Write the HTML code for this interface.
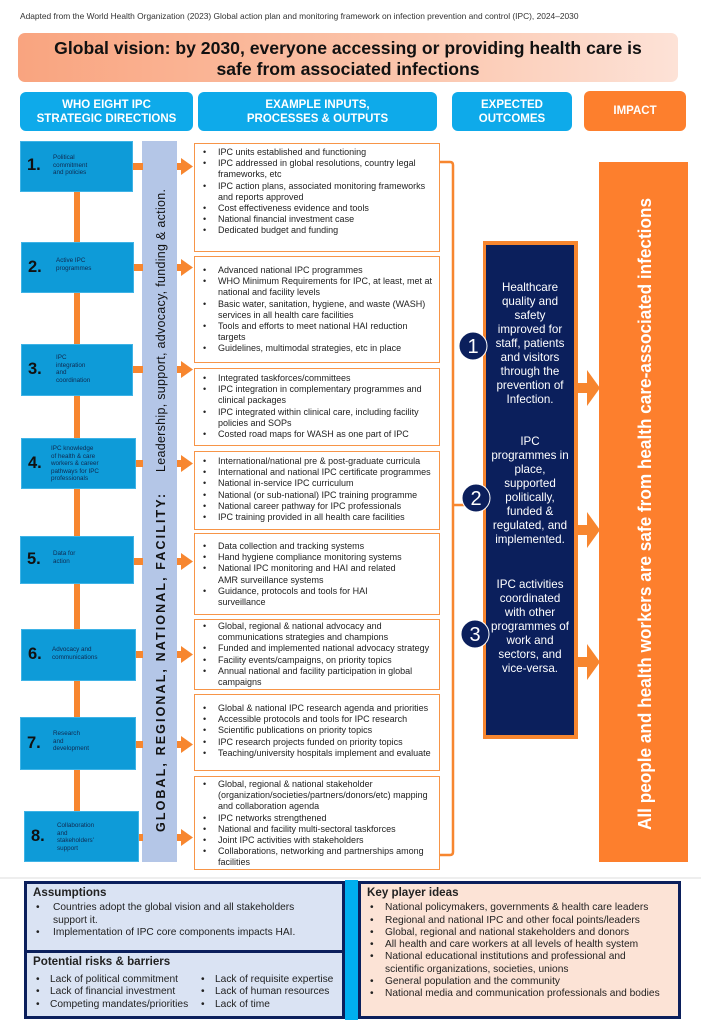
<!DOCTYPE html>
<html><head><meta charset="utf-8"><style>
*{margin:0;padding:0;box-sizing:border-box}
body{width:701px;height:1024px;background:#fff;position:relative;overflow:hidden;font-family:"Liberation Sans",Arial,sans-serif;color:#222}
.a{position:absolute}
.hdr{position:absolute;color:#fff;font-weight:bold;font-size:11.5px;text-align:center;display:flex;align-items:center;justify-content:center;line-height:14px;border-radius:6px}
.lb{position:absolute;background:#0e9bd8;border:1px solid #3fb3e6}
.lb .n{position:absolute;left:6px;font-weight:bold;font-size:16.5px;color:#111}
.lb .t{position:absolute;left:32px;font-size:6.3px;line-height:7.6px;color:#0f2a50}
.mb{position:absolute;left:194px;width:246px;border:1.6px solid #f79548;background:#fff;font-size:9px;line-height:11.2px;padding:3px 3px 0 0}
.mb ul,.bt ul{list-style:none}
.mb li{position:relative;padding-left:23px}
.mb li:before{content:"•";position:absolute;left:8px}
.oc{position:absolute;left:490px;width:80px;color:#fff;font-size:11.6px;line-height:14px;text-align:center}
.bt{position:absolute;font-size:10.2px;line-height:12.3px}
.bt h4{font-size:11.6px;margin-bottom:3px}
.bt li{position:relative;padding-left:20px}
.bt li:before{content:"•";position:absolute;left:3px}
</style></head><body>
<div class="a" style="left:20px;top:11px;font-size:8.4px;color:#333">Adapted from the World Health Organization (2023) Global action plan and monitoring framework on infection prevention and control (IPC), 2024–2030</div>
<div class="a" style="left:18px;top:33px;width:660px;height:49px;border-radius:7px;background:linear-gradient(90deg,#f9a47f,#fbc6ad 60%,#fde2d7);text-align:center;font-weight:bold;font-size:17.6px;line-height:21px;padding-top:5px;color:#111">Global vision: by 2030, everyone accessing or providing health care is<br>safe from associated infections</div>
<div class="hdr" style="left:20px;top:92px;width:173px;height:39px;background:#0eaaea">WHO EIGHT IPC<br>STRATEGIC DIRECTIONS</div>
<div class="hdr" style="left:198px;top:92px;width:239px;height:39px;background:#0eaaea">EXAMPLE INPUTS,<br>PROCESSES &amp; OUTPUTS</div>
<div class="hdr" style="left:452px;top:92px;width:120px;height:39px;background:#0eaaea">EXPECTED<br>OUTCOMES</div>
<div class="hdr" style="left:584px;top:91px;width:102px;height:40px;background:#fd7f2d">IMPACT</div>

<svg class="a" style="left:0;top:0" width="701" height="1024">
<rect x="74" y="190" width="6" height="625" fill="#f7862f"/>
<rect x="142" y="141" width="35" height="721" fill="#b4c6e7"/>
<g fill="#f7862f">
<g id="ar"><rect x="133" y="163" width="10" height="7"/><rect x="177" y="163" width="5" height="7"/><polygon points="181,158 193,166.5 181,175"/></g>
<use href="#ar" y="101"/><use href="#ar" y="203"/><use href="#ar" y="297"/><use href="#ar" y="395"/><use href="#ar" y="488"/><use href="#ar" y="578"/><use href="#ar" y="671"/>
</g>
<text transform="translate(165,832) rotate(-90)" font-family="Liberation Sans,sans-serif" font-size="12.5" font-weight="bold" fill="#111" textLength="338" lengthAdjust="spacing">GLOBAL,   REGIONAL,   NATIONAL,   FACILITY:</text>
<text transform="translate(165,472) rotate(-90)" font-family="Liberation Sans,sans-serif" font-size="12.5" fill="#111" textLength="283" lengthAdjust="spacing">Leadership, support, advocacy, funding &amp; action.</text>
<path d="M440 162 H450 Q453 162 453 165 V852 Q453 855 450 855 H440" fill="none" stroke="#f7862f" stroke-width="2.5"/>
<line x1="453" y1="505" x2="470" y2="505" stroke="#f7862f" stroke-width="2.5"/>
<rect x="483" y="241" width="95" height="498" fill="#f7862f"/>
<rect x="486" y="245" width="88" height="490" fill="#0b1f5c"/>
<g fill="#0b1f5c" stroke="#fff" stroke-width="1"><circle cx="473" cy="346" r="14"/><circle cx="476" cy="498" r="14"/><circle cx="475" cy="634" r="14"/></g>
<g fill="#fff" font-family="Liberation Sans,sans-serif" font-size="20" text-anchor="middle"><text x="473" y="353">1</text><text x="476" y="505">2</text><text x="475" y="641">3</text></g>
<g fill="#f7862f"><rect x="574" y="383" width="16" height="10"/><polygon points="587,370 600,388 587,406"/>
<rect x="574" y="525" width="16" height="10"/><polygon points="587,512 600,530 587,548"/>
<rect x="574" y="657" width="16" height="10"/><polygon points="587,644 600,662 587,680"/></g>
<rect x="599" y="162" width="89" height="700" fill="#fd7f2d"/>
<text transform="translate(651,830) rotate(-90)" font-family="Liberation Sans,sans-serif" font-size="18.5" font-weight="bold" fill="#fff" textLength="632" lengthAdjust="spacingAndGlyphs">All people and health workers are safe from health care-associated infections</text>
<line x1="0" y1="878" x2="701" y2="878" stroke="#ddd" stroke-width="1"/>
<rect x="345" y="880" width="13" height="140" fill="#00aeef"/>
<rect x="24" y="881" width="321" height="138" fill="#0b1f5c"/>
<rect x="27" y="884" width="315" height="66" fill="#dae3f3"/>
<rect x="27" y="953" width="315" height="63" fill="#dae3f3"/>
<rect x="358" y="881" width="323" height="138" fill="#0b1f5c"/>
<rect x="361" y="884" width="317" height="132" fill="#fce3d6"/>
<g fill="none" stroke="#1f4e79" stroke-width="1.2">
<rect x="99" y="155" width="17" height="22" rx="2"/><line x1="103" y1="161" x2="112" y2="161"/><line x1="103" y1="165" x2="112" y2="165"/><circle cx="116" cy="174" r="3"/>
<rect x="104" y="256" width="19" height="23" rx="1"/><line x1="107" y1="262" x2="120" y2="262"/><line x1="107" y1="267" x2="120" y2="267"/><line x1="107" y1="272" x2="120" y2="272"/>
<rect x="96" y="358" width="10" height="8"/><rect x="108" y="371" width="12" height="8"/><path d="M106 362 h6 v9"/>
<circle cx="113" cy="455" r="3"/><circle cx="106" cy="467" r="3"/><circle cx="120" cy="467" r="3"/><path d="M101 474 q5 -5 10 0 M115 474 q5 -5 10 0"/>
<rect x="97" y="549" width="6" height="6"/><rect x="97" y="561" width="6" height="6"/><rect x="106" y="555" width="6" height="6"/><circle cx="122" cy="558" r="3"/><path d="M103 552 h3 v3 M103 564 h3 v-3 M112 558 h7"/>
<rect x="102" y="644" width="15" height="10"/><rect x="110" y="655" width="15" height="10"/>
<circle cx="107" cy="740" r="8"/><line x1="113" y1="746" x2="120" y2="753"/>
<circle cx="116" cy="827" r="2.5"/><circle cx="109" cy="836" r="2.5"/><circle cx="124" cy="836" r="2.5"/><circle cx="116" cy="844" r="2.5"/><circle cx="116" cy="836" r="12" stroke-dasharray="3 3"/>
</g>
</svg>

<div class="lb" style="left:20px;top:141px;width:113px;height:51px"><span class="n" style="top:14px">1.</span><span class="t" style="top:12px">Political<br>commitment<br>and policies</span></div>
<div class="lb" style="left:21px;top:242px;width:113px;height:51px"><span class="n" style="top:15px">2.</span><span class="t" style="left:34px;top:14px">Active IPC<br>programmes</span></div>
<div class="lb" style="left:21px;top:344px;width:112px;height:52px"><span class="n" style="top:15px">3.</span><span class="t" style="left:34px;top:9px">IPC<br>integration<br>and<br>coordination</span></div>
<div class="lb" style="left:21px;top:438px;width:115px;height:51px"><span class="n" style="top:15px">4.</span><span class="t" style="left:29px;top:6px">IPC knowledge<br>of health &amp; care<br>workers &amp; career<br>pathways for IPC<br>professionals</span></div>
<div class="lb" style="left:20px;top:536px;width:114px;height:48px"><span class="n" style="top:13px">5.</span><span class="t" style="top:13px">Data for<br>action</span></div>
<div class="lb" style="left:21px;top:629px;width:115px;height:52px"><span class="n" style="top:15px">6.</span><span class="t" style="left:30px;top:16px">Advocacy and<br>communications</span></div>
<div class="lb" style="left:20px;top:717px;width:116px;height:53px"><span class="n" style="top:16px">7.</span><span class="t" style="left:32px;top:12px">Research<br>and<br>development</span></div>
<div class="lb" style="left:24px;top:811px;width:115px;height:51px"><span class="n" style="top:15px">8.</span><span class="t" style="left:32px;top:10px">Collaboration<br>and<br>stakeholders'<br>support</span></div>

<div class="mb" style="top:143px;height:109px"><ul><li>IPC units established and functioning</li><li>IPC addressed in global resolutions, country legal frameworks, etc</li><li>IPC action plans, associated monitoring frameworks and reports approved</li><li>Cost effectiveness evidence and tools</li><li>National financial investment case</li><li>Dedicated budget and funding</li></ul></div>
<div class="mb" style="top:256px;height:107px;padding-top:8px"><ul><li>Advanced national IPC programmes</li><li>WHO Minimum Requirements for IPC, at least, met at national and facility levels</li><li>Basic water, sanitation, hygiene, and waste (WASH) services in all health care facilities</li><li>Tools and efforts to meet national HAI reduction targets</li><li>Guidelines, multimodal strategies, etc in place</li></ul></div>
<div class="mb" style="top:368px;height:78px;padding-top:4px"><ul><li>Integrated taskforces/committees</li><li>IPC integration in complementary programmes and clinical packages</li><li>IPC integrated within clinical care, including facility policies and SOPs</li><li>Costed road maps for WASH as one part of IPC</li></ul></div>
<div class="mb" style="top:451px;height:79px;padding-top:4px"><ul><li>International/national pre &amp; post-graduate curricula</li><li>International and national IPC certificate programmes</li><li>National in-service IPC curriculum</li><li>National (or sub-national) IPC training programme</li><li>National career pathway for IPC professionals</li><li>IPC training provided in all health care facilities</li></ul></div>
<div class="mb" style="top:533px;height:82px;padding-top:7px"><ul><li>Data collection and tracking systems</li><li>Hand hygiene compliance monitoring systems</li><li>National IPC monitoring and HAI and related<br>AMR surveillance systems</li><li>Guidance, protocols and tools for HAI<br>surveillance</li></ul></div>
<div class="mb" style="top:619px;height:71px;padding-top:1px"><ul><li>Global, regional &amp; national advocacy and communications strategies and champions</li><li>Funded and implemented national advocacy strategy</li><li>Facility events/campaigns, on priority topics</li><li>Annual national and facility participation in global campaigns</li></ul></div>
<div class="mb" style="top:694px;height:77px;padding-top:8px"><ul><li>Global &amp; national IPC research agenda and priorities</li><li>Accessible protocols and tools for IPC research</li><li>Scientific publications on priority topics</li><li>IPC research projects funded on priority topics</li><li>Teaching/university hospitals implement and evaluate</li></ul></div>
<div class="mb" style="top:776px;height:94px;padding-top:2px"><ul><li>Global, regional &amp; national stakeholder (organization/societies/partners/donors/etc) mapping and collaboration agenda</li><li>IPC networks strengthened</li><li>National and facility multi-sectoral taskforces</li><li>Joint IPC activities with stakeholders</li><li>Collaborations, networking and partnerships among facilities</li></ul></div>

<div class="oc" style="top:281px">Healthcare quality and safety improved for staff, patients and visitors through the prevention of Infection.</div>
<div class="oc" style="top:435px">IPC programmes in place, supported politically, funded &amp; regulated, and implemented.</div>
<div class="oc" style="top:578px">IPC activities coordinated with other programmes of work and sectors, and vice-versa.</div>

<div class="bt" style="left:33px;top:887px;width:290px"><h4>Assumptions</h4><ul><li>Countries adopt the global vision and all stakeholders support it.</li><li>Implementation of IPC core components impacts HAI.</li></ul></div>
<div class="bt" style="left:33px;top:956px;width:310px"><h4>Potential risks &amp; barriers</h4>
<ul style="position:absolute;top:18px;left:0;width:180px"><li style="padding-left:17px">Lack of political commitment</li><li style="padding-left:17px">Lack of financial investment</li><li style="padding-left:17px">Competing mandates/priorities</li></ul>
<ul style="position:absolute;top:18px;left:165px;width:150px"><li style="padding-left:17px">Lack of requisite expertise</li><li style="padding-left:17px">Lack of human resources</li><li style="padding-left:17px">Lack of time</li></ul></div>
<div class="bt" style="left:367px;top:887px;width:305px"><h4>Key player ideas</h4><ul><li style="padding-left:18px">National policymakers, governments &amp; health care leaders</li><li style="padding-left:18px">Regional and national IPC and other focal points/leaders</li><li style="padding-left:18px">Global, regional and national stakeholders and donors</li><li style="padding-left:18px">All health and care workers at all levels of health system</li><li style="padding-left:18px">National educational institutions and professional and<br>scientific organizations, societies, unions</li><li style="padding-left:18px">General population and the community</li><li style="padding-left:18px">National media and communication professionals and bodies</li></ul></div>
</body></html>
